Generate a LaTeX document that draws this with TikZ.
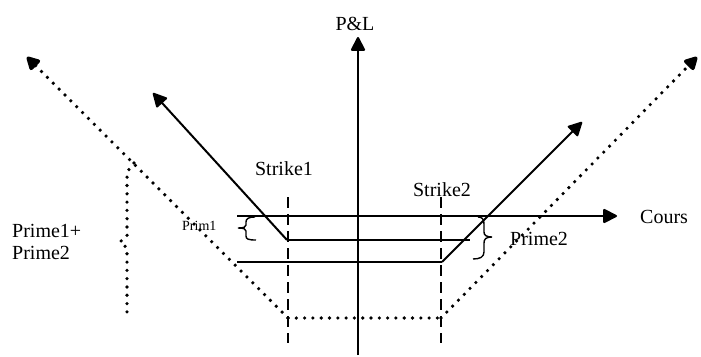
\documentclass[tikz,border=0pt]{standalone}
\usepackage{fontspec}
\setmainfont{Liberation Serif}
\usetikzlibrary{arrows.meta}
\begin{document}
\begin{tikzpicture}[x=1pt,y=-1pt,
  solidline/.style={line width=2pt},
  dashline/.style={line width=1.6pt,dash pattern=on 11pt off 6pt},
  dotline/.style={line width=3.6pt,line cap=round,dash pattern=on 0pt off 8.3pt},
  tip/.style={-{Triangle[length=15pt,width=15pt,round=false]}},
  lbl/.style={font=\fontsize{20}{24}\selectfont,inner sep=0pt,anchor=base west},
  smalllbl/.style={font=\fontsize{14}{16}\selectfont,inner sep=0pt,anchor=base west}]
\useasboundingbox (0,0) rectangle (701,356);
% key points
\coordinate (yb) at (358,355);
\coordinate (yt) at (358,37);
\coordinate (xl) at (237,216);
\coordinate (xr) at (617,216);
\coordinate (a1) at (287,240);
\coordinate (a0) at (153,93);
\coordinate (a2) at (470,240);
\coordinate (b0) at (237,262);
\coordinate (b1) at (442,262);
\coordinate (b2) at (582,122);
\coordinate (s1t) at (288,197);
\coordinate (s1b) at (288,343);
\coordinate (s2t) at (441,197);
\coordinate (s2b) at (441,343);
\coordinate (d1) at (288,318);
\coordinate (d2) at (441,318);
\coordinate (dl) at (27,57);
\coordinate (dr) at (697,57);
% axes
\draw[solidline,tip] (yb) -- (yt);
\draw[solidline,tip] (xl) -- (xr);
% solid payoff lines
\draw[solidline,tip] (a1) -- (a0);
\draw[solidline] (a1) -- (a2);
\draw[solidline] (b0) -- (b1);
\draw[solidline,tip] (b1) -- (b2);
% strikes
\draw[dashline] (s1t) -- (s1b);
\draw[dashline] (s2t) -- (s2b);
% dotted combined payoff
\draw[dotline] (d1) -- (d2);
\draw[dotline,tip] (d1) -- (dl);
\draw[dotline,tip] (d2) -- (dr);
% dotted brace
\draw[dotline] (134,163) -- (127,172) -- (127,236) -- (120,242) -- (127,248) -- (127,313);
% Prim1 brace
\draw[line width=1.4pt] (255,217) .. controls (248,217) and (246,219) .. (246,222) -- (246,225) .. controls (246,227) and (244,228) .. (238,228) .. controls (244,228) and (246,229) .. (246,231) -- (246,236) .. controls (246,239) and (248,240) .. (256,240);
% Prime2 brace
\draw[line width=1.4pt] (478,217) .. controls (482,217) and (484,219) .. (484,224) -- (484,232) .. controls (484,235) and (486,237) .. (492,237) .. controls (486,237) and (484,239) .. (484,243) -- (484,252) .. controls (484,257) and (480,259) .. (473,259);
% labels
\node[lbl,anchor=base] (pl) at (355,30) {P\&L};
\node[lbl,anchor=base] (st1) at (284,175) {Strike1};
\node[lbl,anchor=base] (st2) at (442,196) {Strike2};
\node[lbl] (cours) at (640,223) {Cours};
\node[lbl] (pr2) at (510,245) {Prime2};
\node[lbl] (pp1) at (12,237) {Prime1+};
\node[lbl] (pp2) at (12,259) {Prime2};
\node[smalllbl] (pr1) at (182,230) {Prim1};
\end{tikzpicture}
\end{document}
